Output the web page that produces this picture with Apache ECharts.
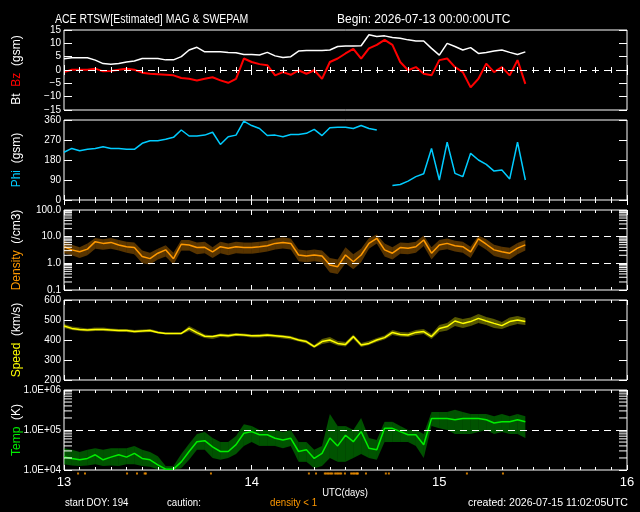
<!DOCTYPE html>
<html><head><meta charset="utf-8">
<script src="https://cdn.jsdelivr.net/npm/echarts@6/dist/echarts.min.js"></script>
<style>html,body{margin:0;padding:0;background:#000}#c{width:640px;height:512px}</style>
</head><body><div id="c"></div>
<script>
// hour offsets from 2026-07-13 00:00 UTC (day 13)
const HOURS = [0,1,2,3,4,5,6,7,8,9,10,11,12,13,14,15,16,17,18,19,20,21,22,23,24,25,26,27,28,29,30,31,32,33,34,35,36,37,38,39,40,41,42,43,44,45,46,47,48,49,50,51,52,53,54,55,56,57,58,59];
const BT = [4.2,4.6,4.6,4.6,3.7,2.4,2.2,2.4,3.0,3.4,4.3,4.3,4.3,3.8,3.8,5.0,7.5,8.5,6.8,6.8,6.8,6.6,6.5,5.8,5.8,5.6,6.6,5.3,4.7,5.0,7.1,7.3,7.3,7.3,7.5,8.8,9.0,9.0,9.1,13.2,12.6,12.8,12.2,11.9,11.3,10.9,10.9,8.1,5.6,10.0,8.8,7.5,8.4,6.2,6.6,7.1,7.5,6.6,5.8,6.8];
const BZ = [-0.8,0.1,0.1,0.1,0.5,-0.5,-0.4,0.1,0.5,0.1,-1.0,-1.4,-1.6,-1.8,-2.0,-3.0,-3.3,-3.9,-3.3,-2.7,-3.9,-4.8,-3.3,4.3,3.0,2.2,1.8,-2.0,-0.8,-1.8,-0.1,-1.4,-0.1,-3.3,3.0,4.3,6.2,7.9,4.3,8.1,9.4,11.3,9.4,3.0,-0.1,1.1,-1.4,-2.0,3.7,4.3,1.1,-0.8,-6.5,-3.3,2.4,-0.8,1.1,-2.0,3.7,-5.2];
const PHI = [215,232,222,228,232,240,232,232,228,228,255,267,267,273,282,315,288,288,292,305,250,285,292,355,335,322,290,292,285,295,295,300,318,290,325,327,327,322,335,322,315,null,65,70,85,105,118,232,90,260,120,105,210,180,160,130,135,95,260,90];
const DEN = [4.2,3.2,2.7,3.4,6.5,5.6,6.1,4.9,4.2,3.9,1.8,1.5,2.4,3.2,1.5,5.2,4.9,3.9,4.0,2.7,4.2,3.7,4.2,3.9,3.9,4.2,4.6,5.6,6.1,5.6,2.05,1.9,2.05,1.9,0.87,0.75,2.05,1.15,2.05,5.6,8.7,3.2,2.4,3.9,3.7,4.2,7.5,2.4,4.9,5.6,4.6,4.2,2.7,8.2,5.2,3.2,2.7,2.4,3.7,4.9];
const DEN_LO = [2.4,2.0,1.6,2.0,3.5,3.2,3.5,3.0,2.5,2.2,1.0,0.9,1.4,1.8,0.9,3.0,3.0,2.2,2.4,1.6,2.4,2.0,2.4,2.3,2.3,2.5,2.8,3.3,3.6,3.3,1.2,1.1,1.2,1.1,0.45,0.4,1.0,0.6,1.1,3.5,5.5,1.8,1.4,2.3,2.2,2.5,4.5,1.4,3.0,3.4,2.8,2.5,1.6,5.0,3.2,1.9,1.6,1.4,2.2,3.0];
const DEN_HI = [7.5,5.0,4.0,5.5,9.0,8.0,9.0,7.5,6.5,6.0,3.0,2.5,3.5,4.8,2.5,7.5,7.5,6.0,6.5,4.0,6.5,5.5,6.5,6.0,6.0,6.5,7.0,8.5,9.5,8.5,3.3,3.0,3.3,3.0,1.6,1.4,4.0,2.2,3.5,9.0,12,5.5,4.0,6.0,5.8,6.5,11,4.0,7.5,8.5,7.0,6.5,4.2,11,8.0,5.0,4.2,3.8,5.8,7.5];
const SPD = [470,458,453,450,453,453,450,447,447,442,445,447,438,433,433,433,458,437,419,417,425,421,428,425,421,421,425,421,417,412,400,392,367,392,400,383,378,417,375,383,400,412,438,428,425,438,442,417,458,467,495,483,492,508,495,483,472,492,500,492];
const SPD_LO = [460,450,445,442,445,445,442,440,440,435,438,440,432,428,428,428,445,425,410,405,415,412,420,417,412,413,415,412,407,403,392,383,360,380,388,372,368,405,365,375,390,402,425,418,415,425,430,405,440,448,470,460,470,485,475,460,455,470,480,475];
const SPD_HI = [480,468,462,458,462,462,458,455,455,450,452,455,445,438,438,438,470,450,428,422,432,430,435,432,428,430,432,428,425,420,408,400,375,405,415,395,390,428,385,395,410,422,450,440,437,450,455,430,475,485,515,505,512,530,515,505,490,512,520,510];
const TMP = [2.1e4,1.95e4,1.8e4,1.95e4,2.4e4,1.8e4,2.1e4,2.4e4,2.1e4,2.6e4,1.95e4,1.8e4,1.35e4,1.05e4,1.05e4,1.6e4,2.9e4,5.1e4,5.4e4,3.8e4,2.9e4,2.9e4,4.3e4,8.3e4,9.1e4,7.6e4,7.6e4,6.2e4,5.6e4,6.2e4,2.9e4,3.2e4,1.95e4,2.6e4,6.3e4,4.0e4,7.4e4,5.1e4,9.1e4,3.5e4,3.2e4,1.1e5,1.1e5,9.1e4,7.6e4,7.6e4,4.3e4,1.95e5,1.95e5,1.95e5,1.8e5,1.95e5,1.95e5,1.95e5,1.8e5,1.5e5,1.6e5,1.6e5,1.8e5,1.6e5];
const TMP_LO = [1.4e4,1.3e4,1.25e4,1.3e4,1.4e4,1.25e4,1.3e4,1.25e4,1.4e4,1.4e4,1.25e4,1.2e4,1.05e4,1.0e4,1.0e4,1.1e4,1.8e4,3.2e4,3.2e4,2.0e4,1.8e4,2.0e4,2.5e4,4.0e4,5.0e4,4.0e4,4.0e4,4.0e4,3.5e4,4.0e4,1.6e4,1.6e4,1.1e4,1.25e4,2.0e4,1.6e4,1.6e4,2.0e4,2.5e4,2.0e4,1.8e4,5.0e4,5.0e4,5.0e4,5.0e4,4.0e4,2.0e4,1.25e5,1.1e5,1.0e5,7.9e4,7.9e4,7.9e4,8.9e4,1.0e5,7.9e4,8.9e4,7.9e4,7.9e4,6.3e4];
const TMP_HI = [3.5e4,3.2e4,2.8e4,3.2e4,3.5e4,3.2e4,3.5e4,3.5e4,3.5e4,4.0e4,3.2e4,2.8e4,2.2e4,1.25e4,1.25e4,2.5e4,4.5e4,7.9e4,8.9e4,6.3e4,5.0e4,5.0e4,7.1e4,1.4e5,1.25e5,1.0e5,1.0e5,1.0e5,8.9e4,1.0e5,5.0e4,5.0e4,3.2e4,4.0e4,2.5e5,1.25e5,1.25e5,1.0e5,2.0e5,6.3e4,5.6e4,1.6e5,1.6e5,1.25e5,1.0e5,1.0e5,7.9e4,2.8e5,2.8e5,2.8e5,3.2e5,2.8e5,2.5e5,2.5e5,2.5e5,2.2e5,2.5e5,2.2e5,2.5e5,2.2e5];
// times (day of month) where density < 1 (caution markers)
const LOWDEN_T = [13.075,13.112,13.336,13.389,13.430,13.436,13.783,14.305,14.343,14.390,14.398,14.406,14.414,14.422,14.430,14.445,14.453,14.461,14.469,14.477,14.497,14.530,14.538,14.546,14.554,14.561,14.566,14.609,14.715,14.731,15.147,15.339];
// tick labels
const BT_TICKS = {'15':'15','10':'10','5':'5','0':'0','-5':'\u22125','-10':'\u221210','-15':'\u221215'};
const DEN_TICKS = {'0.1':'0.1','1':'1.0','10':'10.0','100':'100.0'};
const TMP_TICKS = {'10000':'1.0E+04','100000':'1.0E+05','1000000':'1.0E+06'};
const DEN_MINOR = [0.2,0.3,0.4,0.5,0.6,0.7,0.8,0.9,2,3,4,5,6,7,8,9,20,30,40,50,60,70,80,90];
const TMP_MINOR = [2e4,3e4,4e4,5e4,6e4,7e4,8e4,9e4,2e5,3e5,4e5,5e5,6e5,7e5,8e5,9e5];
const DAY0 = 13;

const FONT = 'Liberation Sans';
const TOPS = [30,120,210,300,390];
const chart = echarts.init(document.getElementById('c'));
const t = h => DAY0 + h/24;
const pairs = arr => HOURS.map((h,i)=>[t(h), arr[i]]);
const bandData = (lo,hi) => HOURS.slice(0,-1).map((h,i)=>[t(h),lo[i],hi[i],t(HOURS[i+1]),lo[i+1],hi[i+1]]);

const grids = TOPS.map(top=>({left:64, width:563, top:top, height:80, show:true, borderColor:'#fff', borderWidth:1, backgroundColor:'transparent'}));
grids.push({left:64, width:563, top:471, height:5, show:false});

const xAxes = [];
TOPS.forEach((_,i)=>{
  ['bottom','top'].forEach(pos=>{
    xAxes.push({type:'value', gridIndex:i, position:pos, min:13, max:16, interval:1, z:10,
      axisLine:{show:false}, splitLine:{show:false},
      axisTick:{show:true, inside:true, length:5, lineStyle:{color:'#fff'}},
      minorTick:{show:true, splitNumber:12, length:3, lineStyle:{color:'#fff'}},
      axisLabel:{show:(i===4 && pos==='bottom'), color:'#fff', fontSize:13, margin:6, fontFamily:FONT}});
  });
});
xAxes.push({type:'value', gridIndex:5, min:13, max:16, show:false});

function yAx(i, pos, cfg, fmt){
  return Object.assign({gridIndex:i, position:pos, z:10, axisLine:{show:false}, splitLine:{show:false},
    axisTick:{show:true, inside:true, length:8, lineStyle:{color:'#fff'}},
    axisLabel:{show:pos==='left', color:'#fff', fontSize:10, margin:3, fontFamily:FONT, formatter:fmt}}, cfg);
}
const yCfg = [
  [{type:'value', min:-15, max:15, interval:5}, v=>BT_TICKS[String(v)]],
  [{type:'value', min:0, max:360, interval:90}, v=>String(v)],
  [{type:'log', logBase:10, min:0.1, max:100}, v=>DEN_TICKS[String(v)]||''],
  [{type:'value', min:200, max:600, interval:100}, v=>String(v)],
  [{type:'log', logBase:10, min:1e4, max:1e6}, v=>TMP_TICKS[String(v)]||'']
];
const yAxes = [];
yCfg.forEach((c,i)=>{ yAxes.push(yAx(i,'left',c[0],c[1])); yAxes.push(yAx(i,'right',c[0],c[1])); });
yAxes.push({type:'value', gridIndex:5, min:0, max:1, show:false});

const dashed = vals => ({silent:true, symbol:['none','none'], label:{show:false},
  lineStyle:{color:'#fff', type:[7,5], width:1}, data: vals.map(v=>({yAxis:v}))});

function band(gi, lo, hi, fill){
  return {type:'custom', xAxisIndex:gi*2, yAxisIndex:gi*2, clip:true, silent:true, z:2,
    data: bandData(lo,hi), encode:{x:[0,3], y:[1,2,4,5]},
    renderItem:(p,api)=>{
      const a=api.coord([api.value(0),api.value(1)]), b=api.coord([api.value(0),api.value(2)]);
      const c=api.coord([api.value(3),api.value(5)]), d=api.coord([api.value(3),api.value(4)]);
      return {type:'polygon', shape:{points:[a,b,c,d]}, style:{fill:fill}};
    }};
}
function minorTicks(gi, vals){
  return {type:'custom', xAxisIndex:gi*2, yAxisIndex:gi*2, silent:true, clip:false, z:10,
    data: vals.map(v=>[13,v]), encode:{x:0,y:1},
    renderItem:(p,api)=>{
      const a=api.coord([13,api.value(1)]), b=api.coord([16,api.value(1)]);
      return {type:'group', children:[
        {type:'line', shape:{x1:a[0],y1:a[1],x2:a[0]+8,y2:a[1]}, style:{stroke:'#fff',lineWidth:1}},
        {type:'line', shape:{x1:b[0]-8,y1:b[1],x2:b[0],y2:b[1]}, style:{stroke:'#fff',lineWidth:1}}]};
    }};
}
function line(gi, arr, color, w, extra){
  return Object.assign({type:'line', xAxisIndex:gi*2, yAxisIndex:gi*2, data:pairs(arr), showSymbol:false,
    connectNulls:false, lineStyle:{color:color, width:w}, itemStyle:{color:color}, silent:true, z:3}, extra||{});
}

const C_PHI='#00ccff', C_DEN='#ff9900', C_SPD='#ffff00', C_TMP='#00ee00';
const series = [
  line(0, BT, '#ffffff', 1.5, {markLine:dashed([0])}),
  line(0, BZ, '#ff0000', 2),
  line(1, PHI, C_PHI, 1.5),
  band(2, DEN_LO, DEN_HI, 'rgba(255,153,0,0.35)'),
  line(2, DEN, C_DEN, 1.5, {markLine:dashed([1,10])}),
  minorTicks(2, DEN_MINOR),
  band(3, SPD_LO, SPD_HI, 'rgba(255,255,0,0.35)'),
  line(3, SPD, C_SPD, 1.5),
  band(4, TMP_LO, TMP_HI, 'rgba(0,238,0,0.35)'),
  line(4, TMP, C_TMP, 1.5, {markLine:dashed([1e5])}),
  minorTicks(4, TMP_MINOR),
  {type:'scatter', xAxisIndex:10, yAxisIndex:10, data:LOWDEN_T.map(v=>[v,0.5]), symbol:'rect', symbolSize:[2,2], itemStyle:{color:C_DEN}, silent:true}
];

const txt = (x,y,text,opt,sx) => ({type:'text', x:x, y:y, scaleX:sx||1, silent:true,
  style:Object.assign({text:text, fill:'#fff', font:'12px '+FONT, verticalAlign:'middle'}, opt||{})});
const ytitle = (y, rich) => ({type:'text', x:17, y:y, rotation:Math.PI/2, silent:true,
  style:{text:rich, align:'center', verticalAlign:'middle', font:'12px '+FONT, fill:'#fff',
    rich:{w:{fill:'#fff', font:'12px '+FONT}, r:{fill:'#ff0000', font:'12px '+FONT}, c:{fill:C_PHI, font:'12px '+FONT},
          o:{fill:C_DEN, font:'12px '+FONT}, y:{fill:C_SPD, font:'12px '+FONT}, g:{fill:C_TMP, font:'12px '+FONT}}}});

chart.setOption({
  backgroundColor:'#000', animation:false,
  grid:grids, xAxis:xAxes, yAxis:yAxes, series:series,
  graphic:[
    txt(55,20,'ACE RTSW[Estimated] MAG & SWEPAM',{},0.875),
    txt(337,20,'Begin: 2026-07-13 00:00:00UTC'),
    txt(345,493,'UTC(days)',{align:'center', font:'11px '+FONT},0.86),
    txt(65,503,'start DOY: 194',{font:'11px '+FONT},0.88),
    txt(167,503,'caution:',{font:'11px '+FONT},0.88),
    txt(270,503,'density < 1',{font:'11px '+FONT, fill:C_DEN},0.88),
    txt(628,503,'created: 2026-07-15 11:02:05UTC',{align:'right', font:'11px '+FONT},0.96),
    ytitle(70,'{w|Bt}  {r|Bz}  {w|(gsm)}'),
    ytitle(160,'{c|Phi}  {w|(gsm)}'),
    ytitle(250,'{o|Density}  {w|(/cm3)}'),
    ytitle(340,'{y|Speed}  {w|(km/s)}'),
    ytitle(430,'{g|Temp}  {w|(K)}')
  ]
});
</script></body></html>
